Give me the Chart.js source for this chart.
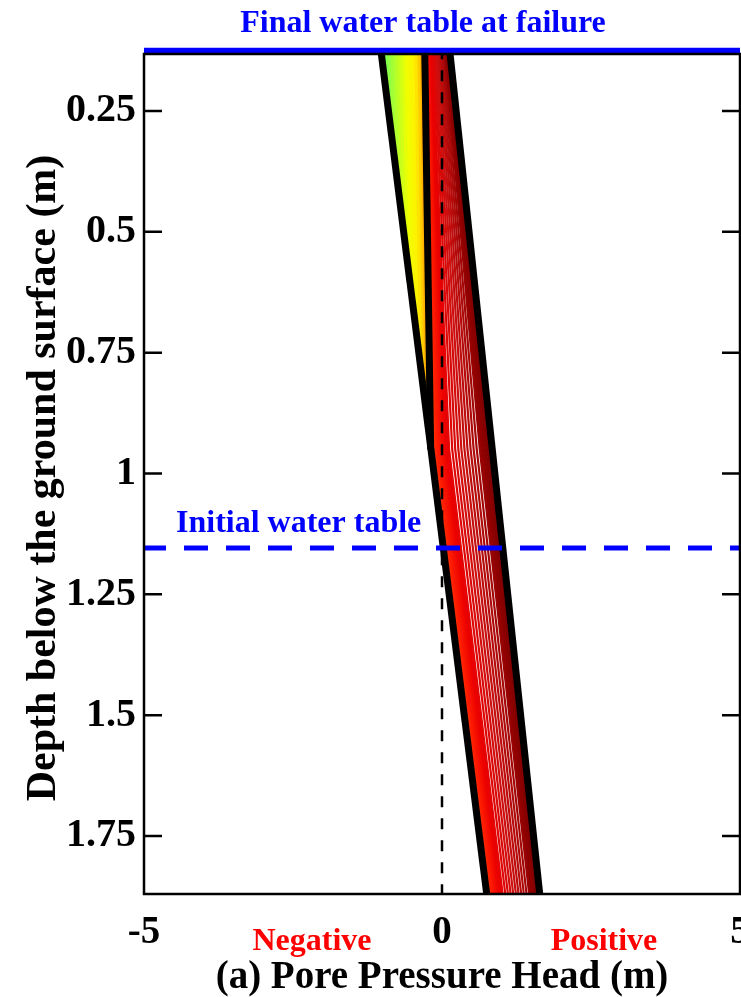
<!DOCTYPE html>
<html>
<head>
<meta charset="utf-8">
<script src="https://cdn.jsdelivr.net/npm/chart.js@4.4.0/dist/chart.umd.min.js"></script>
<style>
  html, body { margin: 0; padding: 0; background: #fff; }
  #wrap { width: 741px; height: 997px; }
</style>
</head>
<body>
<div id="wrap"><canvas id="poreChart" width="741" height="997"></canvas></div>
<script>
// axes
const depthTicks = [0.25, 0.5, 0.75, 1, 1.25, 1.5, 1.75];
const depthTickLabels = ['0.25', '0.5', '0.75', '1', '1.25', '1.5', '1.75'];
const headTicks = [-5, 0, 5];
const headTickLabels = ['-5', '0', '5'];

// water tables (depth, m)
const finalWaterTable = 0.125;
const initialWaterTable = 1.154;

// outline profiles, [head, depth]
const initialProfile = [[-1.03, 0.12], [0.75, 1.87]];
const wetFrontProfile = [[-0.29, 0.12], [-0.19, 0.95]];
const finalProfile = [[0.125, 0.12], [1.64, 1.87]];
const zeroHeadLine = [[0, 0.12], [0, 1.88]];

// infiltration stage: head at surface, wetting front depth and head on the initial profile
const wetTopHead = [-0.98, -0.93, -0.88, -0.83, -0.78, -0.73, -0.68, -0.63, -0.58, -0.53, -0.48, -0.43, -0.38, -0.34, -0.31];
const wetFrontDepth = [0.18, 0.23, 0.29, 0.34, 0.40, 0.46, 0.51, 0.57, 0.63, 0.68, 0.74, 0.79, 0.85, 0.89, 0.93];
const wetFrontHead = [-0.97, -0.92, -0.86, -0.81, -0.75, -0.68, -0.63, -0.57, -0.51, -0.46, -0.40, -0.35, -0.29, -0.25, -0.21];

// rising water table stage: head at surface, at knee depth and at base
const surfaceDepth = 0.12;
const kneeDepth = 0.95;
const baseDepth = 1.87;
const riseTopHead = [-0.290, -0.280, -0.269, -0.259, -0.249, -0.238, -0.228, -0.217, -0.207, -0.197, -0.186, -0.176, -0.166,
    -0.145, -0.124, -0.103, -0.083, -0.062, -0.041, -0.020, 0.001, 0.021, 0.042,
    0.052, 0.063, 0.073, 0.084, 0.094, 0.104, 0.115, 0.125];
const riseKneeHead = [-0.190, -0.164, -0.139, -0.113, -0.087, -0.061, -0.036, -0.010, 0.016, 0.042, 0.068, 0.093, 0.119,
    0.171, 0.222, 0.274, 0.325, 0.377, 0.428, 0.480, 0.531, 0.583, 0.634,
    0.660, 0.686, 0.711, 0.737, 0.763, 0.789, 0.814, 0.840];
const riseBaseHead = [0.750, 0.772, 0.795, 0.817, 0.839, 0.861, 0.884, 0.906, 0.928, 0.950, 0.973, 0.995, 1.017,
    1.062, 1.106, 1.151, 1.195, 1.240, 1.284, 1.329, 1.373, 1.418, 1.462,
    1.484, 1.507, 1.529, 1.551, 1.573, 1.596, 1.618, 1.640];

const SERIF = '"Liberation Serif", "Times New Roman", serif';

// colour ramps
const wetStops = [[0, [110, 255, 90]], [0.55, [240, 255, 0]], [0.75, [255, 240, 0]], [0.9, [255, 190, 0]], [1, [255, 140, 0]]];
const riseStops = [[0, [255, 80, 0]], [0.1, [255, 30, 0]], [0.25, [235, 0, 0]], [0.5, [205, 15, 15]], [0.7, [175, 10, 10]], [0.85, [145, 0, 0]], [1, [120, 0, 0]]];

function rampColor(stops, t) {
    for (let i = 1; i < stops.length; i++) {
        if (t <= stops[i][0]) {
            const [t0, c0] = stops[i - 1];
            const [t1, c1] = stops[i];
            const f = (t - t0) / (t1 - t0);
            const c = c0.map((v, k) => Math.round(v + (c1[k] - v) * f));
            return 'rgb(' + c.join(',') + ')';
        }
    }
    return 'rgb(' + stops[stops.length - 1][1].join(',') + ')';
}

function line(points, opts) {
    return Object.assign({
        data: points.map(p => ({ x: p[0], y: p[1] })),
        showLine: true,
        pointRadius: 0,
        pointHoverRadius: 0,
        fill: false,
        clip: 0,
        borderCapStyle: 'butt',
        borderJoinStyle: 'round'
    }, opts);
}

const datasets = [];

// water table lines on top
datasets.push(line([[-5, finalWaterTable], [5, finalWaterTable]], { borderColor: '#0000ff', borderWidth: 5.5, clip: 8, order: 0 }));
datasets.push(line([[-5, initialWaterTable], [5, initialWaterTable]], { borderColor: '#0000ff', borderWidth: 5, borderDash: [24, 18], borderDashOffset: 2, order: 0 }));

// black outlines
datasets.push(line(initialProfile, { borderColor: '#000', borderWidth: 7, order: 1 }));
datasets.push(line(wetFrontProfile, { borderColor: '#000', borderWidth: 7, order: 1 }));
datasets.push(line(finalProfile, { borderColor: '#000', borderWidth: 7, order: 1 }));

// zero head reference
datasets.push(line(zeroHeadLine, { borderColor: '#000', borderWidth: 2.5, borderDash: [11, 11], order: 2 }));

// rising stage profiles, red to dark red
const baseSpan = riseBaseHead[riseBaseHead.length - 1] - riseBaseHead[0];
riseTopHead.forEach((h, i) => {
    const t = (riseBaseHead[i] - riseBaseHead[0]) / baseSpan;
    datasets.push(line([[h, surfaceDepth], [riseKneeHead[i], kneeDepth], [riseBaseHead[i], baseDepth]], {
        borderColor: rampColor(riseStops, t),
        borderWidth: 2.2,
        order: 100 - i
    }));
});

// infiltration profiles, green to yellow
wetTopHead.forEach((h, i) => {
    const t = i / (wetTopHead.length - 1);
    datasets.push(line([[h, surfaceDepth], [wetFrontHead[i], wetFrontDepth[i]]], {
        borderColor: rampColor(wetStops, t),
        borderWidth: 4,
        order: 200 - i
    }));
});

const decorations = {
    id: 'decorations',
    afterDatasetsDraw(chart) {
        const { ctx, chartArea: a, scales: { y } } = chart;
        ctx.save();
        ctx.strokeStyle = '#000';
        ctx.lineWidth = 2.5;
        ctx.strokeRect(a.left, a.top, a.right - a.left, a.bottom - a.top);
        ctx.beginPath();
        depthTicks.forEach(v => {
            const py = y.getPixelForValue(v);
            ctx.moveTo(a.left, py);
            ctx.lineTo(a.left + 18, py);
            ctx.moveTo(a.right - 18, py);
            ctx.lineTo(a.right, py);
        });
        ctx.stroke();
        ctx.restore();
    },
    afterDraw(chart) {
        const ctx = chart.ctx;
        ctx.save();
        ctx.textBaseline = 'alphabetic';

        ctx.fillStyle = '#0000ff';
        ctx.font = 'bold 32px ' + SERIF;
        ctx.textAlign = 'center';
        ctx.fillText('Final water table at failure', 423, 32);
        ctx.textAlign = 'left';
        ctx.fillText('Initial water table', 176, 532);

        ctx.fillStyle = '#ff0000';
        ctx.textAlign = 'center';
        ctx.fillText('Negative', 312, 950);
        ctx.fillText('Positive', 604, 950);

        ctx.fillStyle = '#000';
        ctx.font = 'bold 39px ' + SERIF;
        ctx.fillText('(a) Pore Pressure Head (m)', 442, 988);

        ctx.translate(55, 478);
        ctx.rotate(-Math.PI / 2);
        ctx.font = 'bold 42px ' + SERIF;
        ctx.fillText('Depth below the ground surface (m)', 0, 0);
        ctx.restore();
    }
};

new Chart(document.getElementById('poreChart'), {
    type: 'scatter',
    data: { datasets: datasets },
    plugins: [decorations],
    options: {
        responsive: false,
        animation: false,
        events: [],
        layout: { padding: { top: 54, left: 0, right: 1, bottom: 0 } },
        plugins: { legend: { display: false }, tooltip: { enabled: false } },
        scales: {
            x: {
                type: 'linear',
                min: -5,
                max: 5,
                grid: { display: false, drawTicks: false },
                border: { display: false },
                afterBuildTicks: s => { s.ticks = headTicks.map(v => ({ value: v })); },
                afterFit: s => { s.height = 103; s.paddingLeft = 0; s.paddingRight = 0; },
                ticks: {
                    padding: 16,
                    color: '#000',
                    font: { family: SERIF, weight: 'bold', size: 39 },
                    callback: v => headTickLabels[headTicks.indexOf(v)]
                }
            },
            y: {
                type: 'linear',
                reverse: true,
                min: 0.132,
                max: 1.87,
                grid: { display: false, drawTicks: false },
                border: { display: false },
                afterBuildTicks: s => { s.ticks = depthTicks.map(v => ({ value: v })); },
                afterFit: s => { s.width = 144; s.paddingTop = 0; s.paddingBottom = 0; },
                ticks: {
                    padding: 8,
                    color: '#000',
                    font: { family: SERIF, weight: 'bold', size: 40 },
                    callback: v => depthTickLabels[depthTicks.indexOf(v)]
                }
            }
        }
    }
});
</script>
</body>
</html>
